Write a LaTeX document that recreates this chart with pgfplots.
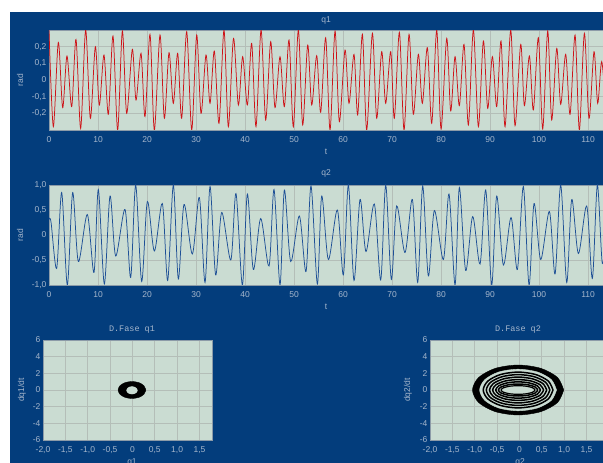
\documentclass[border=0pt]{standalone}
\usepackage{fontspec}
\setmainfont{Liberation Sans}
\newfontfamily\monofont{Liberation Mono}
\usepackage{pgfplots}
\usepackage{pgfplotstable}
\pgfplotsset{compat=1.18}
\definecolor{bgblue}{RGB}{3,61,124}
\definecolor{plotbg}{RGB}{202,220,210}
\definecolor{gridc}{RGB}{180,190,184}
\definecolor{framec}{RGB}{140,155,168}
\definecolor{labc}{RGB}{165,182,204}
\definecolor{q1red}{RGB}{205,20,25}
\definecolor{q2blue}{RGB}{30,80,150}

\pgfplotstableread{
t v
0.00 0.30
0.88 -0.28
1.90 0.226
2.79 -0.166
3.67 0.144
4.63 -0.16
5.51 0.244
6.46 -0.29
7.48 0.30
8.44 -0.23
9.46 0.20
10.27 -0.15
11.22 0.15
12.11 -0.206
13.06 0.264
14.01 -0.30
14.97 0.294
15.85 -0.20
17.01 0.184
17.76 -0.12
18.78 0.16
19.59 -0.22
20.61 0.274
21.50 -0.30
22.65 0.27
23.54 -0.23
24.49 0.164
25.37 -0.14
26.26 0.16
27.07 -0.23
28.10 0.29
29.12 -0.30
30.14 0.27
31.02 -0.20
32.04 0.15
32.86 -0.14
33.74 0.174
34.69 -0.26
35.71 0.30
36.60 -0.28
37.65 0.25
38.64 -0.15
39.52 0.14
40.48 -0.15
41.36 0.22
42.24 -0.28
43.27 0.30
44.22 -0.24
45.24 0.23
46.12 -0.166
47.14 0.14
48.03 -0.16
48.98 0.24
49.86 -0.28
50.88 0.30
51.77 -0.27
52.79 0.21
53.61 -0.15
54.63 0.146
55.44 -0.194
56.46 0.254
57.35 -0.30
58.37 0.294
59.25 -0.25
60.41 0.18
61.22 -0.14
62.24 0.154
62.99 -0.21
63.95 0.274
64.83 -0.30
65.99 0.28
66.87 -0.23
67.89 0.17
68.71 -0.14
69.73 0.17
70.47 -0.23
71.50 0.286
72.45 -0.30
73.47 0.274
74.35 -0.206
75.37 0.154
76.19 -0.14
77.21 0.194
78.10 -0.26
79.12 0.30
80.00 -0.294
81.16 0.25
81.97 -0.186
82.86 0.14
83.74 -0.154
84.69 0.214
85.58 -0.27
86.60 0.30
87.62 -0.28
88.64 0.234
89.52 -0.17
90.48 0.14
91.36 -0.16
92.24 0.234
93.06 -0.28
94.22 0.30
95.10 -0.274
96.26 0.214
97.01 -0.154
98.03 0.144
98.84 -0.18
99.86 0.254
100.75 -0.294
101.77 0.294
102.58 -0.24
103.61 0.19
104.42 -0.146
105.44 0.154
106.33 -0.206
107.35 0.27
108.23 -0.30
109.25 0.28
110.20 -0.23
111.22 0.17
111.97 -0.14
112.79 0.11
113.70 -0.20
}\qone

\pgfplotstableread{
t v
0.00 0.31
0.41 0.26
1.56 -0.67
2.59 0.85
3.74 -1.0
4.83 0.85
5.99 -0.53
7.82 0.41
9.18 -0.75
10.07 0.91
11.29 -0.98
12.45 0.78
13.61 -0.42
15.51 0.51
16.67 -0.85
17.69 1.0
18.91 -0.93
20.07 0.67
21.50 -0.32
23.13 0.63
24.22 -0.91
25.37 1.0
26.39 -0.88
27.55 0.61
29.25 -0.38
30.68 0.75
31.84 -0.95
32.86 0.97
34.01 -0.8
35.24 0.45
37.10 -0.5
38.16 0.83
39.46 -1.0
40.48 0.82
41.70 -0.69
43.20 0.33
44.90 -0.62
45.92 0.91
47.14 -1.0
48.03 0.9
49.32 -0.53
51.09 0.38
52.45 -0.73
53.47 0.98
54.76 -0.98
55.65 0.78
57.01 -0.49
58.84 0.5
60.07 -0.8
61.09 1.0
62.24 -0.91
63.47 0.71
64.69 -0.33
66.39 0.62
67.69 -0.9
68.71 1.0
69.86 -0.89
70.95 0.58
72.65 -0.35
74.15 0.71
75.24 -0.95
76.26 0.98
77.41 -0.82
78.64 0.49
80.48 -0.49
81.63 0.82
82.86 -1.0
83.74 0.95
85.03 -0.71
86.46 0.37
87.96 -0.58
89.12 0.9
90.34 -1.0
91.36 0.78
92.72 -0.6
94.29 0.35
95.58 -0.69
96.80 0.97
97.96 -1.0
98.98 0.63
100.34 -0.49
102.11 0.47
103.27 -0.78
104.42 1.0
105.65 -0.95
106.67 0.71
108.03 -0.37
109.73 0.58
110.88 -0.87
111.90 1.0
112.92 -0.57
113.90 0.30
}\qtwo

\pgfplotsset{
  panel/.style={
    scale only axis, anchor=south west,
    axis background/.style={fill=plotbg},
    axis line style={framec, line width=0.6pt},
    grid=major, major grid style={gridc, line width=0.6pt},
    tick style={draw=none},
    ticklabel style={font=\fontsize{8.5}{10}\selectfont, text=labc},
    /pgf/number format/assume math mode=true,
    xticklabel style={yshift=-3pt},
    yticklabel style={xshift=1pt},
  },
}

\begin{document}
\begin{tikzpicture}
\useasboundingbox (0pt,0pt) rectangle (603pt,463pt);
\fill[white] (0pt,0pt) rectangle (603pt,463pt);
\fill[bgblue] (10pt,0pt) rectangle (603pt,451pt);

% q1
\begin{axis}[panel, at={(49pt,333pt)}, width=566pt, height=100pt,
  xmin=0, xmax=115.5, ymin=-0.3, ymax=0.3,
  xtick={0,10,20,30,40,50,60,70,80,90,100,110},
  ytick={-0.2,-0.1,0,0.1,0.2},
  yticklabels={{-0,2},{-0,1},0,{0,1},{0,2}}]
\addplot[q1red, line width=0.75pt, smooth] table[x=t,y=v] {\qone};
\end{axis}

% q2
\begin{axis}[panel, at={(49pt,178pt)}, width=566pt, height=100pt,
  xmin=0, xmax=115.5, ymin=-1, ymax=1,
  xtick={0,10,20,30,40,50,60,70,80,90,100,110},
  ytick={-1,-0.5,0,0.5,1},
  yticklabels={{-1,0},{-0,5},0,{0,5},{1,0}}]
\addplot[q2blue, line width=0.75pt, smooth] table[x=t,y=v] {\qtwo};
\end{axis}

% phase q1
\begin{axis}[panel, at={(43pt,23pt)}, width=169pt, height=100pt,
  xmin=-2, xmax=1.78, ymin=-6, ymax=6,
  xtick={-2,-1.5,-1,-0.5,0,0.5,1,1.5},
  xticklabels={{-2,0},{-1,5},{-1,0},{-0,5},0,{0,5},{1,0},{1,5}},
  ytick={-6,-4,-2,0,2,4,6},
  yticklabels={-6,-4,-2,0,2,4,6}]
\addplot[black, fill=black, smooth] coordinates {(0.30,0) (0.258,0.51) (0.145,0.883) (-0.01,1.02) (-0.165,0.883) (-0.278,0.51) (-0.32,0) (-0.278,-0.51) (-0.165,-0.883) (-0.01,-1.02) (0.145,-0.883) (0.258,-0.51) (0.30,0)} -- cycle;
\addplot[plotbg, fill=plotbg, smooth] coordinates {(0.11,-0.04) (0.094,0.185) (0.05,0.35) (-0.01,0.41) (-0.07,0.35) (-0.114,0.185) (-0.13,-0.04) (-0.114,-0.265) (-0.07,-0.43) (-0.01,-0.49) (0.05,-0.43) (0.094,-0.265) (0.11,-0.04)} -- cycle;
\end{axis}

% phase q2
\begin{axis}[panel, at={(430pt,23pt)}, width=182pt, height=100pt,
  xmin=-2, xmax=2.07, ymin=-6, ymax=6,
  xtick={-2,-1.5,-1,-0.5,0,0.5,1,1.5},
  xticklabels={{-2,0},{-1,5},{-1,0},{-0,5},0,{0,5},{1,0},{1,5}},
  ytick={-6,-4,-2,0,2,4,6},
  yticklabels={-6,-4,-2,0,2,4,6}]
\addplot[black, fill=black, smooth] coordinates {(0.99,0) (0.853,1.5) (0.48,2.598) (-0.03,3.0) (-0.54,2.598) (-0.913,1.5) (-1.05,0) (-0.913,-1.5) (-0.54,-2.598) (-0.03,-3.0) (0.48,-2.598) (0.853,-1.5) (0.99,0)} -- cycle;
\addplot[plotbg, fill=plotbg, smooth] coordinates {(0.83,0) (0.713,1.25) (0.40,2.165) (-0.03,2.5) (-0.46,2.165) (-0.773,1.25) (-0.89,0) (-0.773,-1.25) (-0.46,-2.165) (-0.03,-2.5) (0.40,-2.165) (0.713,-1.25) (0.83,0)} -- cycle;
\addplot[black, line width=1.5pt, smooth] coordinates {(0.75,0) (0.645,1.075) (0.36,1.862) (-0.03,2.15) (-0.42,1.862) (-0.705,1.075) (-0.81,0) (-0.705,-1.075) (-0.42,-1.862) (-0.03,-2.15) (0.36,-1.862) (0.645,-1.075) (0.75,0)};
\addplot[black, line width=1.5pt, smooth] coordinates {(0.68,0) (0.585,0.925) (0.325,1.602) (-0.03,1.85) (-0.385,1.602) (-0.645,0.925) (-0.74,0) (-0.645,-0.925) (-0.385,-1.602) (-0.03,-1.85) (0.325,-1.602) (0.585,-0.925) (0.68,0)};
\addplot[black, line width=1.5pt, smooth] coordinates {(0.61,0) (0.524,0.775) (0.29,1.342) (-0.03,1.55) (-0.35,1.342) (-0.584,0.775) (-0.67,0) (-0.584,-0.775) (-0.35,-1.342) (-0.03,-1.55) (0.29,-1.342) (0.524,-0.775) (0.61,0)};
\addplot[black, line width=1.5pt, smooth] coordinates {(0.54,0) (0.464,0.625) (0.255,1.083) (-0.03,1.25) (-0.315,1.083) (-0.524,0.625) (-0.60,0) (-0.524,-0.625) (-0.315,-1.083) (-0.03,-1.25) (0.255,-1.083) (0.464,-0.625) (0.54,0)};
\addplot[black, line width=1.5pt, smooth] coordinates {(0.47,0) (0.403,0.49) (0.22,0.849) (-0.03,0.98) (-0.28,0.849) (-0.463,0.49) (-0.53,0) (-0.463,-0.49) (-0.28,-0.849) (-0.03,-0.98) (0.22,-0.849) (0.403,-0.49) (0.47,0)};
\addplot[black, line width=1.5pt, smooth] coordinates {(0.41,0) (0.351,0.36) (0.19,0.624) (-0.03,0.72) (-0.25,0.624) (-0.411,0.36) (-0.47,0) (-0.411,-0.36) (-0.25,-0.624) (-0.03,-0.72) (0.19,-0.624) (0.351,-0.36) (0.41,0)};
\addplot[black, line width=1.2pt, smooth] coordinates {(0.35,0) (0.299,0.26) (0.16,0.45) (-0.03,0.52) (-0.22,0.45) (-0.359,0.26) (-0.41,0) (-0.359,-0.26) (-0.22,-0.45) (-0.03,-0.52) (0.16,-0.45) (0.299,-0.26) (0.35,0)};
\end{axis}

% titles and labels
\begin{scope}[every node/.style={text=labc, font=\fontsize{8.5}{10}\selectfont, inner sep=0pt}]
\node at (326pt,443pt) {q1};
\node at (326pt,311pt) {t};
\node[rotate=90] at (20pt,383pt) {rad};
\node at (326pt,290pt) {q2};
\node at (326pt,156pt) {t};
\node[rotate=90] at (20pt,228pt) {rad};
\node[font=\monofont\fontsize{8.5}{10}\selectfont] at (132pt,133pt) {D.Fase q1};
\node[rotate=90] at (22pt,73pt) {dq1/dt};
\node[anchor=north] at (132pt,5pt) {q1};
\node[font=\monofont\fontsize{8.5}{10}\selectfont] at (518pt,133pt) {D.Fase q2};
\node[rotate=90] at (408pt,73pt) {dq2/dt};
\node[anchor=north] at (520pt,5pt) {q2};
\end{scope}
\end{tikzpicture}
\end{document}
